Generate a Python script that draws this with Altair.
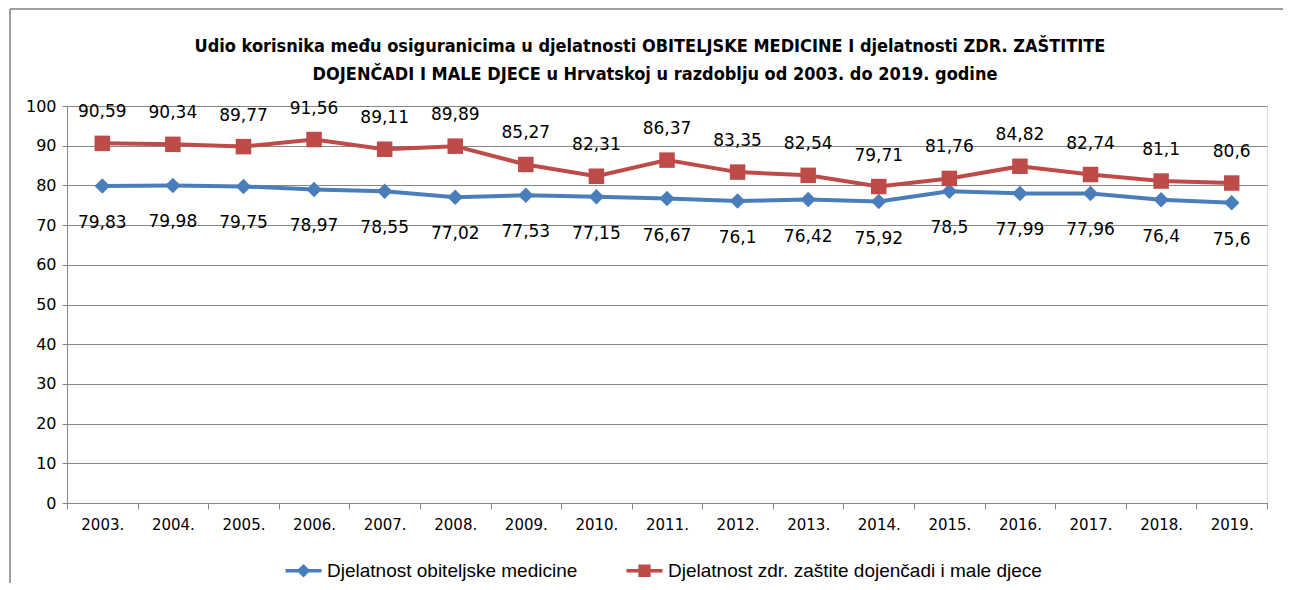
import altair as alt
import pandas as pd

years = ["2003.", "2004.", "2005.", "2006.", "2007.", "2008.", "2009.", "2010.", "2011.",
         "2012.", "2013.", "2014.", "2015.", "2016.", "2017.", "2018.", "2019."]
obiteljska = [79.83, 79.98, 79.75, 78.97, 78.55, 77.02, 77.53, 77.15, 76.67,
              76.1, 76.42, 75.92, 78.5, 77.99, 77.96, 76.4, 75.6]
dojencad = [90.59, 90.34, 89.77, 91.56, 89.11, 89.89, 85.27, 82.31, 86.37,
            83.35, 82.54, 79.71, 81.76, 84.82, 82.74, 81.1, 80.6]
series_names = ["Djelatnost obiteljske medicine", "Djelatnost zdr. zaštite dojenčadi i male djece"]
colors = ["#4A7EBB", "#BE4B48"]
title_lines = ["Udio korisnika među osiguranicima  u djelatnosti  OBITELJSKE MEDICINE I djelatnosti ZDR. ZAŠTITITE",
               "DOJENČADI I MALE DJECE u Hrvatskoj u razdoblju od 2003. do 2019. godine"]

rows = []
for s, vals in zip(series_names, [obiteljska, dojencad]):
    for y, v in zip(years, vals):
        rows.append({"Godina": y, "Serija": s, "Vrijednost": v,
                     "Oznaka": f"{v:g}".replace(".", ",")})
df = pd.DataFrame(rows)

FONT = "DejaVu Sans"

x = alt.X("Godina:N", sort=years, title=None,
          scale=alt.Scale(paddingInner=0, paddingOuter=0),
          axis=alt.Axis(labelAngle=0, tickBand="extent", grid=False, labelFont=FONT,
                        labelFontSize=15, labelColor="#000", domainColor="#868686",
                        tickColor="#868686", tickSize=6, labelPadding=8))
y = alt.Y("Vrijednost:Q", title=None,
          scale=alt.Scale(domain=[0, 100], nice=False),
          axis=alt.Axis(values=list(range(0, 101, 10)), labelFont=FONT, labelFontSize=16,
                        labelColor="#000", domainColor="#868686", tickColor="#868686",
                        tickSize=5, gridColor="#868686", labelPadding=6))
color = alt.Color("Serija:N", scale=alt.Scale(domain=series_names, range=colors), legend=None)

base = alt.Chart(df)
one = alt.Chart(pd.DataFrame({"k": [0]}))

frame_left = one.mark_rule(stroke="#7F7F7F", strokeWidth=1.5).encode(
    x=alt.value(-57), y=alt.value(-97), y2=alt.value(500))
frame_top = one.mark_rule(stroke="#7F7F7F", strokeWidth=1.5).encode(
    x=alt.value(-57), x2=alt.value(1300), y=alt.value(-97))

title1 = one.mark_text(font="DejaVu Sans Condensed", fontSize=18, fontWeight="bold",
                       color="#000", baseline="middle", align="center").encode(
    x=alt.value(583), y=alt.value(-59), text=alt.value(title_lines[0]))
title2 = one.mark_text(font="DejaVu Sans Condensed", fontSize=18, fontWeight="bold",
                       color="#000", baseline="middle", align="center").encode(
    x=alt.value(588), y=alt.value(-31), text=alt.value(title_lines[1]))

lines = base.mark_line(strokeWidth=4).encode(x=x, y=y, color=color)
points = base.mark_point(filled=True, opacity=1, size=240).encode(
    x=x, y=y, color=color,
    shape=alt.Shape("Serija:N", scale=alt.Scale(domain=series_names, range=["diamond", "square"]),
                    legend=None))

labels_top = base.transform_filter(alt.datum.Serija == series_names[1]).mark_text(
    dy=-31, font=FONT, fontSize=17, color="#000").encode(x=x, y=y, text="Oznaka:N")
labels_bot = base.transform_filter(alt.datum.Serija == series_names[0]).mark_text(
    dy=37, font=FONT, fontSize=17, color="#000").encode(x=x, y=y, text="Oznaka:N")

path_diamond = "M-1,-0.1H1V0.1H-1Z M0,-0.38L0.38,0L0,0.38L-0.38,0Z"
path_square = "M-1,-0.1H1V0.1H-1Z M-0.34,-0.34H0.34V0.34H-0.34Z"
leg = dict(title=None, orient="none", direction="horizontal", legendX=218, legendY=446,
           symbolSize=1300, symbolOpacity=1, labelFont="Liberation Sans", labelLimit=0,
           labelFontSize=19, labelColor="#000", columnPadding=48, symbolStrokeWidth=0,
           labelOffset=5)
legend_layer = base.mark_point(filled=True, opacity=0).encode(
    x=x, y=y,
    color=alt.Color("Serija:N", scale=alt.Scale(domain=series_names, range=colors),
                    legend=alt.Legend(**leg)),
    shape=alt.Shape("Serija:N", scale=alt.Scale(domain=series_names, range=[path_diamond, path_square]),
                    legend=alt.Legend(**leg)))

chart = alt.layer(frame_left, frame_top, title1, title2, lines, points, labels_top, labels_bot,
                  legend_layer).resolve_scale(
    shape="independent").resolve_legend(color="independent", shape="independent").properties(
    width=1200, height=397,
    autosize=alt.AutoSizeParams(type="none"),
    padding={"left": 59, "top": 98, "right": 16, "bottom": 80},
).configure_view(stroke=None).configure(background="white")

chart.save("out.html", embed_options={"renderer": "svg", "actions": False})
